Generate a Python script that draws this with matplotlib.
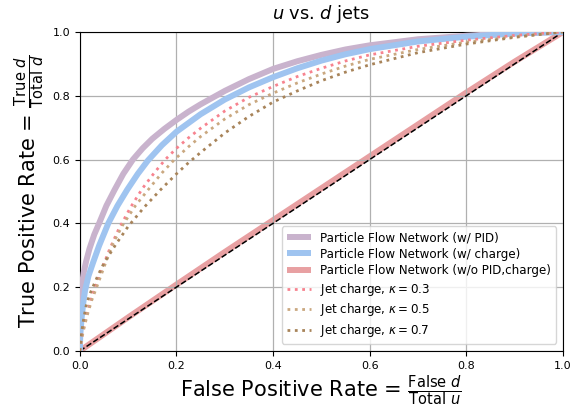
import matplotlib
matplotlib.use("Agg")
import matplotlib.pyplot as plt

# ROC curves (false positive rate, true positive rate)
pid_fpr = [0, 0.0005, 0.002, 0.004, 0.008, 0.013, 0.02, 0.03, 0.04, 0.055, 0.072, 0.09, 0.11, 0.13, 0.15,
           0.175, 0.2, 0.225, 0.25, 0.3, 0.35, 0.4, 0.45, 0.5, 0.55, 0.6, 0.7, 0.8, 0.9, 1.0]
pid_tpr = [0, 0.07, 0.14, 0.20, 0.245, 0.28, 0.32, 0.365, 0.40, 0.455, 0.505, 0.555, 0.60, 0.635, 0.665,
           0.696, 0.724, 0.75, 0.773, 0.815, 0.852, 0.884, 0.908, 0.928, 0.945, 0.958, 0.977, 0.988, 0.996, 1.0]

chg_fpr = [0, 0.001, 0.004, 0.008, 0.011, 0.018, 0.027, 0.04, 0.059, 0.078, 0.098, 0.12, 0.141, 0.17,
           0.2, 0.25, 0.3, 0.35, 0.4, 0.45, 0.5, 0.55, 0.6, 0.7, 0.8, 0.9, 1.0]
chg_tpr = [0, 0.05, 0.107, 0.16, 0.19, 0.235, 0.275, 0.33, 0.40, 0.455, 0.505, 0.555, 0.597, 0.645,
           0.687, 0.742, 0.788, 0.826, 0.858, 0.886, 0.910, 0.930, 0.946, 0.970, 0.985, 0.995, 1.0]

noc_fpr = [0, 0.1, 0.2, 0.3, 0.4, 0.5, 0.6, 0.7, 0.8, 0.9, 1.0]
noc_tpr = [0, 0.105, 0.208, 0.31, 0.41, 0.51, 0.61, 0.71, 0.81, 0.907, 1.0]

k03_fpr = [0, 0.005, 0.01, 0.015, 0.023, 0.032, 0.046, 0.062, 0.08, 0.105, 0.13, 0.155, 0.177, 0.2,
           0.225, 0.25, 0.3, 0.35, 0.4, 0.45, 0.5, 0.55, 0.6, 0.7, 0.8, 0.9, 1.0]
k03_tpr = [0, 0.05, 0.085, 0.115, 0.16, 0.20, 0.258, 0.32, 0.38, 0.45, 0.51, 0.56, 0.60, 0.635,
           0.668, 0.698, 0.752, 0.795, 0.829, 0.86, 0.886, 0.909, 0.928, 0.955, 0.974, 0.989, 1.0]

k05_fpr = [0, 0.005, 0.01, 0.016, 0.025, 0.035, 0.05, 0.068, 0.089, 0.115, 0.144, 0.17, 0.196, 0.225,
           0.25, 0.3, 0.35, 0.4, 0.45, 0.5, 0.55, 0.6, 0.7, 0.8, 0.9, 1.0]
k05_tpr = [0, 0.045, 0.08, 0.115, 0.16, 0.20, 0.262, 0.335, 0.395, 0.455, 0.51, 0.558, 0.60, 0.64,
           0.672, 0.727, 0.772, 0.808, 0.84, 0.868, 0.893, 0.914, 0.945, 0.968, 0.985, 1.0]

k07_fpr = [0, 0.003, 0.008, 0.013, 0.02, 0.027, 0.038, 0.05, 0.075, 0.1, 0.133, 0.167, 0.2, 0.225,
           0.25, 0.3, 0.35, 0.4, 0.45, 0.5, 0.55, 0.6, 0.7, 0.8, 0.9, 1.0]
k07_tpr = [0, 0.05, 0.10, 0.14, 0.175, 0.20, 0.238, 0.275, 0.335, 0.39, 0.45, 0.505, 0.555, 0.59,
           0.622, 0.683, 0.735, 0.78, 0.815, 0.847, 0.874, 0.897, 0.935, 0.962, 0.983, 1.0]

diag = [0, 1]

labels = [
    "Particle Flow Network (w/ PID)",
    "Particle Flow Network (w/ charge)",
    "Particle Flow Network (w/o PID,charge)",
    r"Jet charge, $\kappa = 0.3$",
    r"Jet charge, $\kappa = 0.5$",
    r"Jet charge, $\kappa = 0.7$",
]
ticks = [0.0, 0.2, 0.4, 0.6, 0.8, 1.0]

fig = plt.figure(figsize=(5.74, 4.09), dpi=100)
ax = fig.add_axes([0.139, 0.142, 0.842, 0.780])

ax.grid(True, color="#b0b0b0", lw=0.9, zorder=0)
ax.plot(diag, diag, "k--", lw=1.1, zorder=2)

solid = dict(lw=4.3, solid_joinstyle="round", solid_capstyle="butt")
ax.plot(pid_fpr, pid_tpr, color="#c9b3cd", label=labels[0], zorder=3, **solid)
ax.plot(chg_fpr, chg_tpr, color="#9fc4f0", label=labels[1], zorder=3, **solid)
ax.plot(noc_fpr, noc_tpr, color="#e8a0a2", label=labels[2], zorder=1.5, **solid)
ax.plot(k03_fpr, k03_tpr, color="#f7838f", lw=2, ls=":", label=labels[3], zorder=3)
ax.plot(k05_fpr, k05_tpr, color="#caa880", lw=2, ls=":", label=labels[4], zorder=3)
ax.plot(k07_fpr, k07_tpr, color="#a8845a", lw=2, ls=":", label=labels[5], zorder=3)

ax.set_xlim(0, 1)
ax.set_ylim(0, 1)
ax.set_xticks(ticks)
ax.set_yticks(ticks)
ax.tick_params(labelsize=8)
ax.set_title(r"$u$ vs. $d$ jets", fontsize=12.8, pad=9)
ax.set_xlabel(r"False Positive Rate = $\frac{\mathrm{False}\ d}{\mathrm{Total}\ u}$", fontsize=15, labelpad=2)
ax.set_ylabel(r"True Positive Rate = $\frac{\mathrm{True}\ d}{\mathrm{Total}\ d}$", fontsize=15, labelpad=4)
ax.legend(loc="lower right", fontsize=8.6, handlelength=2.0, labelspacing=0.3,
          borderaxespad=0.6)

fig.savefig("out.png", dpi=100)
